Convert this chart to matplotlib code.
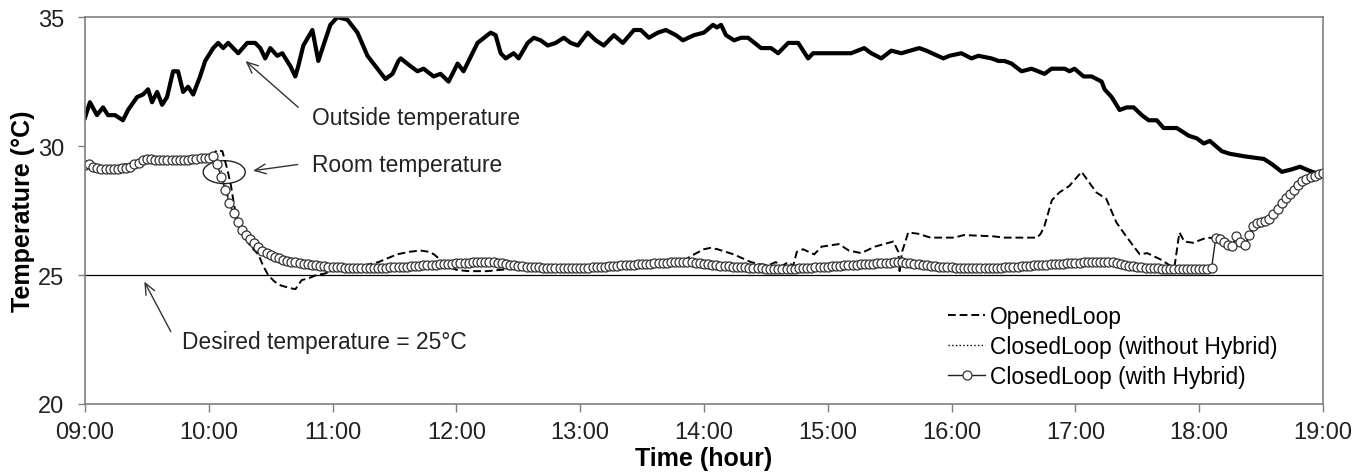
import numpy as np
import matplotlib.pyplot as plt
from matplotlib.patches import Ellipse

plt.rcParams['font.family'] = ['Liberation Sans', 'DejaVu Sans']

# outside temperature (time in hours, value in degC)
outside_t = [9.0, 9.04, 9.097, 9.146, 9.186, 9.243, 9.307, 9.348, 9.421, 9.469, 9.51, 9.542,
             9.583, 9.623, 9.663, 9.712, 9.752, 9.793, 9.833, 9.874, 9.93, 9.971, 10.036,
             10.076, 10.117, 10.157, 10.197, 10.238, 10.311, 10.375, 10.416, 10.456, 10.497,
             10.553, 10.594, 10.659, 10.699, 10.723, 10.764, 10.837, 10.861, 10.885, 10.926,
             10.982, 11.039, 11.12, 11.201, 11.282, 11.362, 11.427, 11.484, 11.532, 11.55,
             11.629, 11.686, 11.735, 11.816, 11.872, 11.937, 12.01, 12.058, 12.171, 12.277,
             12.317, 12.358, 12.398, 12.463, 12.503, 12.576, 12.625, 12.681, 12.738, 12.803,
             12.867, 12.924, 12.981, 13.061, 13.126, 13.191, 13.272, 13.345, 13.434, 13.49,
             13.555, 13.628, 13.693, 13.774, 13.83, 13.919, 14.0, 14.073, 14.105, 14.138,
             14.178, 14.243, 14.299, 14.356, 14.461, 14.542, 14.599, 14.68, 14.761, 14.841,
             14.882, 15.189, 15.294, 15.351, 15.432, 15.513, 15.594, 15.739, 15.796, 15.934,
             15.982, 16.079, 16.16, 16.217, 16.322, 16.379, 16.427, 16.484, 16.565, 16.646,
             16.751, 16.807, 16.913, 16.953, 16.993, 17.066, 17.131, 17.212, 17.236, 17.293,
             17.357, 17.414, 17.471, 17.536, 17.592, 17.657, 17.713, 17.819, 17.916, 17.981,
             18.037, 18.086, 18.183, 18.248, 18.369, 18.523, 18.587, 18.668, 18.75, 18.814,
             18.911, 18.992]
outside_v = [31.1, 31.7, 31.2, 31.5, 31.2, 31.2, 31.0, 31.4, 31.9, 32.0, 32.2, 31.7,
             32.1, 31.6, 31.9, 32.9, 32.9, 32.1, 32.3, 32.0, 32.7, 33.3, 33.8,
             34.0, 33.8, 34.0, 33.8, 33.6, 34.0, 34.0, 33.8, 33.4, 33.8,
             33.5, 33.6, 33.1, 32.7, 33.1, 33.9, 34.5, 33.9, 33.3, 33.9,
             34.7, 35.0, 34.9, 34.4, 33.5, 33.0, 32.6, 32.8, 33.3, 33.4,
             33.1, 32.9, 33.0, 32.7, 32.8, 32.5, 33.2, 32.9, 34.0, 34.4,
             34.3, 33.6, 33.4, 33.6, 33.4, 34.0, 34.2, 34.1, 33.9, 34.0,
             34.2, 34.0, 33.9, 34.4, 34.1, 33.9, 34.3, 34.0, 34.5, 34.5,
             34.2, 34.4, 34.5, 34.3, 34.1, 34.3, 34.4, 34.7, 34.6, 34.7,
             34.3, 34.1, 34.2, 34.2, 33.8, 33.8, 33.6, 34.0, 34.0, 33.4,
             33.6, 33.6, 33.8, 33.6, 33.4, 33.7, 33.6, 33.8, 33.7, 33.4,
             33.5, 33.6, 33.4, 33.5, 33.4, 33.3, 33.3, 33.2, 32.9, 33.0,
             32.8, 33.0, 33.0, 32.9, 33.0, 32.7, 32.7, 32.5, 32.2, 31.9,
             31.4, 31.5, 31.5, 31.2, 31.0, 31.0, 30.7, 30.7, 30.4, 30.3,
             30.1, 30.2, 29.8, 29.7, 29.6, 29.5, 29.3, 29.0, 29.1, 29.2,
             29.0, 28.9]

# opened loop room temperature
open_t = [9.0, 9.17, 9.33, 9.5, 9.67, 9.83, 10.0, 10.07, 10.11, 10.15, 10.18, 10.2, 10.22,
          10.26, 10.3, 10.34, 10.4, 10.44, 10.48, 10.53, 10.58, 10.65, 10.7, 10.75, 10.82,
          10.87, 10.93, 11.0, 11.1, 11.25, 11.28, 11.37, 11.52, 11.62, 11.71, 11.78, 11.82,
          11.88, 11.95, 12.0, 12.1, 12.25, 12.35, 12.5, 13.0, 13.5, 13.7, 13.85, 13.9, 14.0,
          14.05, 14.11, 14.24, 14.38, 14.45, 14.52, 14.58, 14.63, 14.68, 14.72, 14.75, 14.8,
          14.89, 14.95, 15.09, 15.17, 15.27, 15.38, 15.53, 15.57, 15.58, 15.6, 15.65, 15.73,
          15.83, 16.02, 16.1, 16.34, 16.42, 16.69, 16.72, 16.75, 16.81, 16.87, 16.95, 17.05,
          17.11, 17.17, 17.25, 17.33, 17.41, 17.52, 17.58, 17.69, 17.77, 17.8, 17.84, 17.88,
          17.95, 18.06, 18.13, 18.27, 18.3, 18.37, 18.45, 18.55, 18.65, 18.75, 18.85, 19.0]
open_v = [29.25, 29.1, 29.3, 29.5, 29.45, 29.45, 29.55, 29.85, 29.8, 29.1, 28.45, 27.85, 27.3,
          26.8, 26.4, 26.1, 25.8, 25.35, 25.0, 24.75, 24.6, 24.5, 24.45, 24.8, 24.9,
          25.0, 25.05, 25.15, 25.2, 25.25, 25.4, 25.5, 25.8, 25.9, 25.95, 25.9, 25.8,
          25.55, 25.3, 25.2, 25.15, 25.15, 25.2, 25.25, 25.28, 25.45, 25.5, 25.6, 25.75, 26.0,
          26.05, 26.0, 25.8, 25.5, 25.42, 25.38, 25.5, 25.35, 25.5, 25.35, 25.9, 26.0,
          25.8, 26.1, 26.2, 25.95, 25.85, 26.1, 26.3, 25.9, 25.15, 25.9, 26.65, 26.6,
          26.45, 26.45, 26.55, 26.5, 26.45, 26.45, 26.6, 26.9, 27.9, 28.2, 28.45, 29.0,
          28.6, 28.2, 27.95, 27.05, 26.5, 25.8, 25.85, 25.6, 25.35, 25.3, 26.65, 26.3,
          26.25, 26.45, 26.43, 26.13, 26.5, 26.15, 26.9, 27.1, 27.6, 28.3, 28.75, 28.95]

# closed loop without hybrid
closed_t = [9.0, 9.25, 9.5, 9.75, 10.0, 10.07, 10.13, 10.2, 10.27, 10.33, 10.42, 10.5, 10.67,
            10.83, 11.0, 11.5, 12.0, 12.3, 12.5, 13.0, 13.5, 13.9, 14.2, 14.5, 15.0, 15.55,
            16.0, 16.25, 16.5, 17.0, 17.25, 17.5, 17.8, 18.1]
closed_v = [29.25, 29.15, 29.5, 29.45, 29.55, 29.55, 28.5, 27.3, 26.6, 26.2, 25.85, 25.62, 25.4,
            25.28, 25.22, 25.2, 25.3, 25.38, 25.25, 25.17, 25.3, 25.38, 25.25, 25.15, 25.22, 25.35,
            25.2, 25.15, 25.2, 25.35, 25.4, 25.2, 25.15, 25.15]

# closed loop with hybrid, one reading every 2 minutes from 09:00 to 19:00
hybrid_v = [
    29.25, 29.3, 29.2, 29.15, 29.1, 29.1, 29.1, 29.1, 29.12, 29.15, 29.15, 29.2, 29.3, 29.35, 29.45,
    29.5, 29.5, 29.45, 29.45, 29.45, 29.45, 29.45, 29.45, 29.45, 29.45, 29.45, 29.5, 29.5, 29.55, 29.55,
    29.55, 29.6, 29.3, 28.8, 28.3, 27.8, 27.4, 27.05, 26.75, 26.55, 26.4, 26.25, 26.1, 25.95, 25.85,
    25.78, 25.7, 25.65, 25.6, 25.56, 25.52, 25.49, 25.46, 25.43, 25.41, 25.39, 25.37, 25.35, 25.34, 25.33,
    25.32, 25.31, 25.3, 25.29, 25.28, 25.28, 25.27, 25.27, 25.27, 25.27, 25.27, 25.28, 25.28, 25.29, 25.3,
    25.3, 25.31, 25.32, 25.33, 25.34, 25.35, 25.36, 25.37, 25.38, 25.39, 25.4, 25.41, 25.42, 25.43, 25.44,
    25.45, 25.46, 25.47, 25.48, 25.49, 25.5, 25.5, 25.5, 25.5, 25.5, 25.48, 25.45, 25.42, 25.4, 25.38,
    25.36, 25.34, 25.33, 25.32, 25.31, 25.3, 25.29, 25.28, 25.27, 25.27, 25.26, 25.26, 25.26, 25.26, 25.26,
    25.27, 25.28, 25.29, 25.3, 25.31, 25.32, 25.33, 25.34, 25.35, 25.36, 25.37, 25.38, 25.39, 25.4, 25.41,
    25.42, 25.43, 25.44, 25.45, 25.46, 25.47, 25.48, 25.49, 25.5, 25.5, 25.5, 25.5, 25.5, 25.48, 25.46,
    25.44, 25.42, 25.4, 25.38, 25.36, 25.35, 25.34, 25.33, 25.32, 25.31, 25.3, 25.29, 25.28, 25.27, 25.26,
    25.25, 25.24, 25.24, 25.23, 25.23, 25.23, 25.24, 25.25, 25.26, 25.27, 25.28, 25.29, 25.3, 25.31, 25.32,
    25.33, 25.34, 25.35, 25.36, 25.37, 25.38, 25.39, 25.4, 25.41, 25.42, 25.43, 25.44, 25.45, 25.46, 25.47,
    25.48, 25.49, 25.5, 25.5, 25.48, 25.46, 25.44, 25.42, 25.4, 25.38, 25.36, 25.34, 25.33, 25.32, 25.31,
    25.3, 25.29, 25.28, 25.27, 25.27, 25.26, 25.26, 25.26, 25.26, 25.27, 25.27, 25.28, 25.29, 25.3, 25.31,
    25.32, 25.33, 25.34, 25.35, 25.36, 25.37, 25.38, 25.39, 25.4, 25.41, 25.42, 25.43, 25.44, 25.45, 25.46,
    25.47, 25.48, 25.49, 25.5, 25.5, 25.5, 25.5, 25.52, 25.52, 25.5, 25.46, 25.42, 25.39, 25.36, 25.34,
    25.32, 25.3, 25.29, 25.28, 25.27, 25.26, 25.25, 25.25, 25.25, 25.24, 25.24, 25.24, 25.24, 25.24, 25.25,
    25.25, 25.25, 25.25, 25.26, 26.43, 26.38, 26.28, 26.18, 26.13, 26.5, 26.28, 26.15, 26.55, 26.9, 27.0,
    27.05, 27.1, 27.17, 27.35, 27.55, 27.8, 27.98, 28.15, 28.3, 28.5, 28.65, 28.72, 28.8, 28.85, 28.9,
    28.95]
hybrid_t = 9 + np.arange(len(hybrid_v)) * 2 / 60

hour_ticks = np.arange(9, 20)
hour_labels = ['%02d:00' % h for h in hour_ticks]

fig = plt.figure(figsize=(13.68, 4.77), dpi=100)
ax = fig.add_axes([0.0621, 0.151, 0.905, 0.811])

ax.plot(outside_t, outside_v, color='black', lw=3.0, solid_joinstyle='round')
ax.axhline(25, color='black', lw=0.9)
ax.plot(open_t, open_v, color='black', lw=1.4, dashes=(4, 2), label='OpenedLoop')
ax.plot(closed_t, closed_v, color='black', lw=1.0, ls=':', label='ClosedLoop (without Hybrid)')
ax.plot(hybrid_t, hybrid_v, color='#222222', lw=1.0, marker='o', ms=6.5, mfc='white',
        mec='#333333', mew=0.9, label='ClosedLoop (with Hybrid)')

ax.add_patch(Ellipse((10.125, 28.99), 0.34, 0.89, fill=False, ec='#222222', lw=1))

arrow = dict(arrowstyle='->, head_length=0.8, head_width=0.35', color='#333333', lw=1)
ax.annotate('', xy=(10.28, 33.37), xytext=(10.74, 31.43), arrowprops=arrow)
ax.annotate('', xy=(10.335, 29.03), xytext=(10.74, 29.3), arrowprops=arrow)
ax.annotate('', xy=(9.469, 24.84), xytext=(9.704, 22.71), arrowprops=arrow)
ax.text(10.837, 31.12, 'Outside temperature', fontsize=16.4, va='center', color='#222222')
ax.text(10.837, 29.3, 'Room temperature', fontsize=16.4, va='center', color='#222222')
ax.text(9.785, 22.44, 'Desired temperature = 25\u00b0C', fontsize=16.4, va='center', color='#222222')

ax.set_xlim(9, 19)
ax.set_ylim(20, 35)
ax.set_xticks(hour_ticks)
ax.set_xticklabels(hour_labels)
ax.set_yticks([20, 25, 30, 35])
ax.tick_params(axis='x', direction='out', length=6, width=1, color='#7f7f7f',
               labelsize=17, pad=6.5, labelcolor='#222222')
ax.tick_params(axis='y', direction='out', length=5, width=1, color='#7f7f7f',
               labelsize=17, pad=10, labelcolor='#222222')
for s in ax.spines.values():
    s.set_color('#7f7f7f')
    s.set_linewidth(1.2)

ax.set_xlabel('Time (hour)', fontsize=18, fontweight='bold', labelpad=2)
ax.set_ylabel('Temperature (\u00b0C)', fontsize=18, fontweight='bold', labelpad=2)

ax.legend(loc='upper left', bbox_to_anchor=(0.697, 0.255), frameon=False, fontsize=16.4,
          handlelength=1.65, handletextpad=0.2, labelspacing=0.3, borderpad=0,
          borderaxespad=0)

fig.savefig('out.png', dpi=100)
